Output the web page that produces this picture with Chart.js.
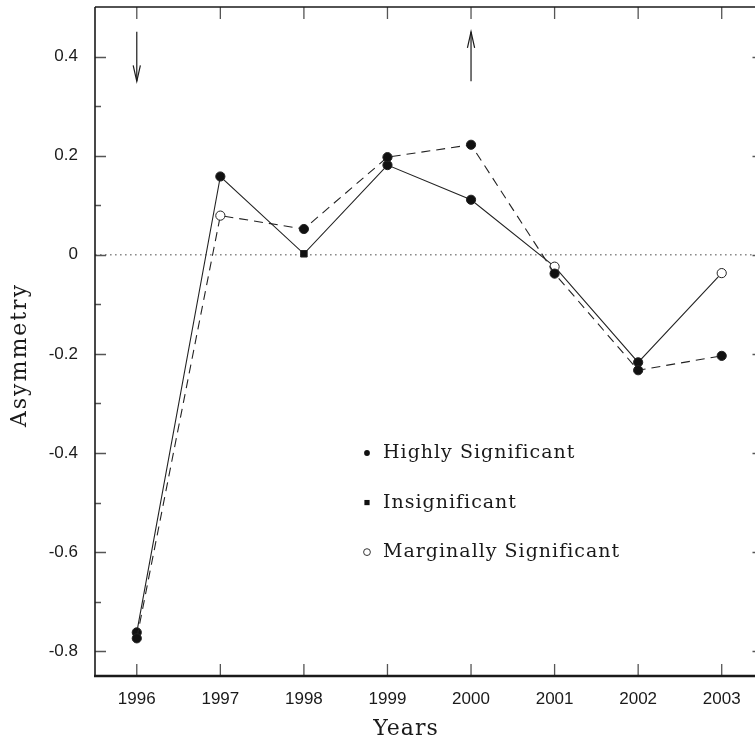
<!DOCTYPE html>
<html><head><meta charset="utf-8">
<script src="https://cdn.jsdelivr.net/npm/chart.js@4"></script>
<style>
html,body{margin:0;padding:0;overflow:hidden;background:#fff;width:755px;height:737px}
#wrap{position:absolute;left:0;top:0;width:770px;height:737px}
canvas{display:block}
</style></head>
<body><div id="wrap"><canvas id="c" width="770" height="737"></canvas></div>
<script>
const years = [1996, 1997, 1998, 1999, 2000, 2001, 2002, 2003];
const solidValues = [-0.762, 0.158, 0.002, 0.181, 0.111, -0.024, -0.217, -0.037];
const solidSignificance = ['high', 'high', 'insig', 'high', 'high', 'marg', 'high', 'marg'];
const dashedValues = [-0.774, 0.079, 0.052, 0.197, 0.222, -0.038, -0.233, -0.204];
const dashedSignificance = ['high', 'marg', 'high', 'high', 'high', 'high', 'high', 'high'];
const yTicks = [-0.8, -0.6, -0.4, -0.2, 0, 0.2, 0.4];
const yMinorTicks = [-0.7, -0.5, -0.3, -0.1, 0.1, 0.3];
const xTicks = years;
const legendLabels = ['Highly Significant', 'Insignificant', 'Marginally Significant'];
const legendKinds = ['high', 'insig', 'marg'];
const arrowMarks = [{year: 1996, from: 0.45, to: 0.35}, {year: 2000, from: 0.35, to: 0.45}];

const styleOf = k => k === 'insig' ? 'rect' : 'circle';
const fillOf = k => k === 'marg' ? '#ffffff' : '#111111';
const toPoints = vals => years.map((y, i) => ({x: y, y: vals[i]}));

const INK = '#1a1a1a';
const TICK = '#555';

const decor = {
  id: 'decor',
  beforeDatasetsDraw(chart) {
    const {ctx, chartArea: a, scales: {x, y}} = chart;
    ctx.save();
    ctx.strokeStyle = '#8a8a8a';
    ctx.lineWidth = 1.6;
    ctx.setLineDash([1.6, 3.4]);
    const y0 = y.getPixelForValue(0);
    ctx.beginPath(); ctx.moveTo(a.left, y0); ctx.lineTo(a.right, y0); ctx.stroke();
    ctx.restore();
  },
  afterDraw(chart) {
    const {ctx, chartArea: a, scales: {x, y}} = chart;
    ctx.save();
    ctx.strokeStyle = TICK; ctx.lineWidth = 1.3;
    ctx.beginPath();
    yTicks.forEach(v => {
      const p = Math.round(y.getPixelForValue(v)) + 0.5;
      ctx.moveTo(a.left, p); ctx.lineTo(a.left + 11, p);
      ctx.moveTo(a.right, p); ctx.lineTo(a.right - 11, p);
    });
    yMinorTicks.forEach(v => {
      const p = Math.round(y.getPixelForValue(v)) + 0.5;
      ctx.moveTo(a.left, p); ctx.lineTo(a.left + 6, p);
      ctx.moveTo(a.right, p); ctx.lineTo(a.right - 6, p);
    });
    xTicks.forEach(v => {
      const p = x.getPixelForValue(v);
      ctx.moveTo(p, a.bottom); ctx.lineTo(p, a.bottom - 12);
      ctx.moveTo(p, a.top); ctx.lineTo(p, a.top + 12);
    });
    ctx.stroke();
    ctx.strokeStyle = INK;
    ctx.lineWidth = 1.6;
    ctx.beginPath(); ctx.moveTo(a.left, a.top); ctx.lineTo(a.right, a.top); ctx.stroke();
    ctx.beginPath(); ctx.moveTo(a.left, a.top); ctx.lineTo(a.left, a.bottom); ctx.stroke();
    ctx.beginPath(); ctx.moveTo(a.right, a.top); ctx.lineTo(a.right, a.bottom); ctx.stroke();
    ctx.lineWidth = 2.4;
    ctx.beginPath(); ctx.moveTo(a.left - 1, a.bottom); ctx.lineTo(a.right, a.bottom); ctx.stroke();

    ctx.strokeStyle = INK; ctx.lineWidth = 1.2;
    arrowMarks.forEach(m => {
      const px = x.getPixelForValue(m.year);
      const p1 = y.getPixelForValue(m.from), p2 = y.getPixelForValue(m.to);
      const dir = p2 > p1 ? 1 : -1;
      ctx.beginPath(); ctx.moveTo(px, p1); ctx.lineTo(px, p2); ctx.stroke();
      ctx.beginPath();
      ctx.moveTo(px - 3.6, p2 - dir * 16); ctx.lineTo(px, p2); ctx.lineTo(px + 3.6, p2 - dir * 16);
      ctx.stroke();
    });

    const lx = x.getPixelForValue(1998.755);
    ctx.font = '19px "DejaVu Serif"';
    ctx.letterSpacing = '1px';
    ctx.fillStyle = INK;
    ctx.textAlign = 'left'; ctx.textBaseline = 'alphabetic';
    legendLabels.forEach((t, i) => {
      const ry = y.getPixelForValue(-0.4 - 0.1 * i);
      const k = legendKinds[i];
      ctx.beginPath();
      if (k === 'high') {
        ctx.arc(lx, ry, 2.9, 0, Math.PI * 2); ctx.fillStyle = '#111'; ctx.fill();
      } else if (k === 'insig') {
        ctx.fillStyle = '#111'; ctx.fillRect(lx - 2.6, ry - 2.6, 5.2, 5.2);
      } else {
        ctx.arc(lx, ry, 3.4, 0, Math.PI * 2); ctx.strokeStyle = '#333'; ctx.lineWidth = 1; ctx.stroke();
      }
      ctx.fillStyle = INK;
      ctx.fillText(t, lx + 16, ry + 5);
    });

    ctx.font = '22px "DejaVu Serif"';
    ctx.letterSpacing = '1px';
    ctx.textAlign = 'center';
    ctx.fillText(x.options.title.text, 406, 735);
    ctx.save();
    ctx.translate(26, 355);
    ctx.rotate(-Math.PI / 2);
    ctx.letterSpacing = '2px';
    ctx.fillText(y.options.title.text, 0, 0);
    ctx.restore();
    ctx.restore();
  }
};

new Chart(document.getElementById('c'), {
  type: 'line',
  data: {
    datasets: [
      {
        label: 'Dashed',
        data: toPoints(dashedValues),
        borderColor: '#222', borderWidth: 1.1, borderDash: [9, 6],
        pointStyle: dashedSignificance.map(styleOf),
        pointBackgroundColor: dashedSignificance.map(fillOf),
        pointBorderColor: '#222', pointBorderWidth: 1,
        pointRadius: 4.6,
        tension: 0, fill: false
      },
      {
        label: 'Solid',
        data: toPoints(solidValues),
        borderColor: '#222', borderWidth: 1.1,
        pointStyle: solidSignificance.map(styleOf),
        pointBackgroundColor: solidSignificance.map(fillOf),
        pointBorderColor: '#222', pointBorderWidth: 1,
        pointRadius: 4.6,
        tension: 0, fill: false
      }
    ]
  },
  options: {
    responsive: false, animation: false,
    layout: {padding: {top: 7, right: 6.5, left: 0, bottom: 0}},
    plugins: {legend: {display: false}, tooltip: {enabled: false}},
    scales: {
      x: {
        type: 'linear', min: 1995.5, max: 2003.5,
        afterBuildTicks: s => { s.ticks = xTicks.map(v => ({value: v})); },
        afterFit: s => { s.height = 61; s.paddingLeft = 0; s.paddingRight = 0; },
        grid: {display: false, drawTicks: false},
        border: {display: false},
        ticks: {
          padding: 13, color: '#1a1a1a', maxRotation: 0, autoSkip: false,
          font: {family: '"Liberation Sans", Arial, sans-serif', size: 17},
          callback: v => String(v)
        },
        title: {display: false, text: 'Years'}
      },
      y: {
        type: 'linear', min: -0.85, max: 0.5,
        afterBuildTicks: s => { s.ticks = yTicks.map(v => ({value: v})); },
        afterFit: s => { s.width = 95; s.paddingTop = 0; s.paddingBottom = 0; },
        grid: {display: false, drawTicks: false},
        border: {display: false},
        ticks: {
          padding: 17, color: '#1a1a1a', autoSkip: false,
          font: {family: '"Liberation Sans", Arial, sans-serif', size: 17},
          callback: v => (Math.abs(v) < 1e-9 ? '0' : String(Math.round(v * 10) / 10))
        },
        title: {display: false, text: 'Asymmetry'}
      }
    }
  },
  plugins: [decor]
});
</script>
</body></html>
